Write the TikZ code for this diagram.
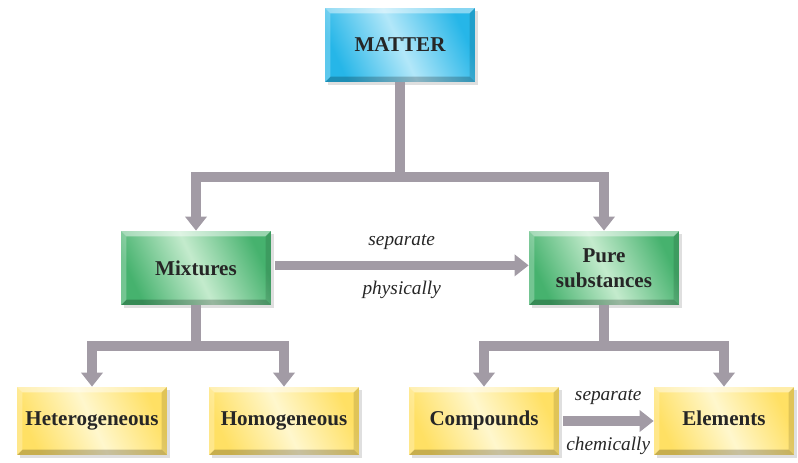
\documentclass[tikz,border=0pt]{standalone}
\usepackage{fontspec}
\setmainfont{Liberation Serif}
\usetikzlibrary{arrows.meta,shadows}

\definecolor{matterBlue}{RGB}{38,182,232}
\definecolor{matterBlueLight}{RGB}{178,231,249}
\definecolor{mixGreen}{RGB}{70,178,110}
\definecolor{mixGreenLight}{RGB}{196,235,205}
\definecolor{elemYellow}{RGB}{255,224,100}
\definecolor{elemYellowLight}{RGB}{255,247,205}
\definecolor{pipeGray}{RGB}{162,155,165}
\definecolor{labelText}{RGB}{38,38,38}

\newcommand{\boxW}{3cm}
\newcommand{\boxH}{1.48cm}
\newcommand{\lowBoxH}{1.36cm}
\newcommand{\bevelW}{3pt}
\newcommand{\pipeWidth}{5.5pt}
\newcommand{\upperBarY}{177}
\newcommand{\lowerBarY}{346}

\tikzset{
  bevel/.style={path picture={
    \fill[white,opacity=0.45] (path picture bounding box.north west) -- (path picture bounding box.north east)
      -- ([shift={(-\bevelW,-\bevelW)}]path picture bounding box.north east) -- ([shift={(\bevelW,-\bevelW)}]path picture bounding box.north west) -- cycle;
    \fill[black,opacity=0.22] (path picture bounding box.south west) -- (path picture bounding box.south east)
      -- ([shift={(-\bevelW,\bevelW)}]path picture bounding box.south east) -- ([shift={(\bevelW,\bevelW)}]path picture bounding box.south west) -- cycle;
    \fill[black,opacity=0.12] (path picture bounding box.north east) -- (path picture bounding box.south east)
      -- ([shift={(-\bevelW,\bevelW)}]path picture bounding box.south east) -- ([shift={(-\bevelW,-\bevelW)}]path picture bounding box.north east) -- cycle;
    \fill[white,opacity=0.25] (path picture bounding box.north west) -- (path picture bounding box.south west)
      -- ([shift={(\bevelW,\bevelW)}]path picture bounding box.south west) -- ([shift={(\bevelW,-\bevelW)}]path picture bounding box.north west) -- cycle;
  }},
  conceptbox/.style={rectangle, minimum width=\boxW, minimum height=\boxH, text=labelText,
    font=\fontsize{12}{14}\selectfont\bfseries, align=center, bevel,
    drop shadow={shadow xshift=1.5pt, shadow yshift=-1.5pt, opacity=0.25}},
  matterbox/.style={conceptbox, left color=matterBlue, right color=matterBlue,
    middle color=matterBlueLight, shading angle=115},
  classbox/.style={conceptbox, left color=mixGreen, right color=mixGreen,
    middle color=mixGreenLight, shading angle=115},
  kindbox/.style={conceptbox, minimum height=\lowBoxH, text height=0.7em, text depth=0.22em,
    left color=elemYellow, right color=elemYellow, middle color=elemYellowLight, shading angle=115},
  pipe/.style={draw=pipeGray, line width=\pipeWidth, line join=miter, -{Triangle[width=12pt,length=8pt]}},
  pipestem/.style={draw=pipeGray, line width=\pipeWidth, line join=miter},
  steplabel/.style={font=\fontsize{11}{13}\selectfont\itshape, text=labelText},
}

\begin{document}
\begin{tikzpicture}[x=0.02cm, y=-0.02cm]
        \useasboundingbox (0,0) rectangle (798,463);

        % Boxes
        \node[matterbox] (matter) at (400,45) {MATTER};
        \node[classbox] (mixtures) at (196,268) {Mixtures};
        \node[classbox] (pure) at (604,268) {Pure\\substances};
        \node[kindbox] (hetero) at (92,421) {Heterogeneous};
        \node[kindbox] (homo) at (284,421) {Homogeneous};
        \node[kindbox] (compounds) at (484,421) {Compounds};
        \node[kindbox, minimum width=2.8cm] (elements) at (724,421) {Elements};

        % Split points
        \coordinate (matterSplit) at (400,\upperBarY);
        \coordinate (mixSplit) at (196,\lowerBarY);
        \coordinate (pureSplit) at (604,\lowerBarY);

        % Draw matter branches
        \draw[pipestem] (matter.south) -- (matterSplit);
        \draw[pipe] (matterSplit) -| (mixtures.north);
        \draw[pipe] (matterSplit) -| (pure.north);

        % Draw mixture branches
        \draw[pipestem] (mixtures.south) -- (mixSplit);
        \draw[pipe] (mixSplit) -| (hetero.north);
        \draw[pipe] (mixSplit) -| (homo.north);

        % Draw pure substance branches
        \draw[pipestem] (pure.south) -- (pureSplit);
        \draw[pipe] (pureSplit) -| (compounds.north);
        \draw[pipe] (pureSplit) -| (elements.north);

        % Separation arrows
        \draw[pipe] ([shift={(2pt,1.5pt)}]mixtures.east) -- ([yshift=1.5pt]pure.west)
          node[steplabel, midway, above=3pt] (sepPhys) {separate}
          node[steplabel, midway, below=3pt] (physLabel) {physically};
        \draw[pipe] ([xshift=2pt]compounds.east) -- (elements.west)
          node[steplabel, midway, above=3pt] (sepChem) {separate}
          node[steplabel, midway, below=3pt] (chemLabel) {chemically};
    \end{tikzpicture}
\end{document}
